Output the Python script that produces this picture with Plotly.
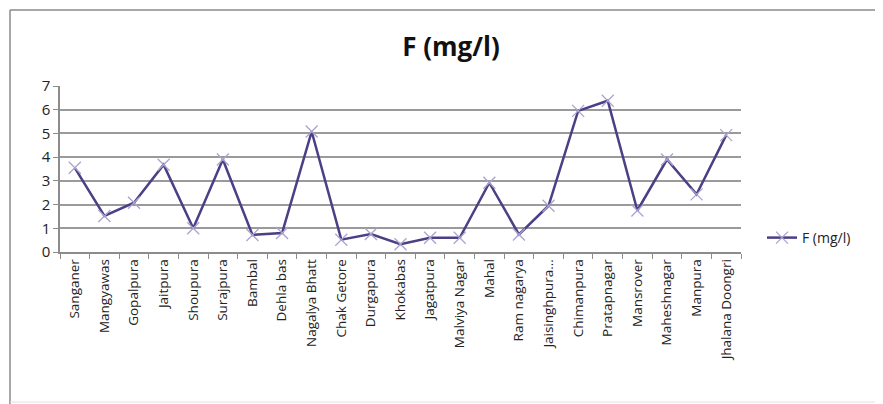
import plotly.graph_objects as go

locations = ["Sanganer", "Mangyawas", "Gopalpura", "Jaitpura", "Shoupura", "Surajpura",
             "Bambal", "Dehla bas", "Nagalya Bhatt", "Chak Getore", "Durgapura", "Khokabas",
             "Jagatpura", "Malviya Nagar", "Mahal", "Ram nagarya", "Jaisinghpura...",
             "Chimanpura", "Pratapnagar", "Mansrover", "Maheshnagar", "Manpura", "Jhalana Doongri"]
f_values = [3.55, 1.52, 2.08, 3.68, 1.0, 3.9, 0.72, 0.8, 5.08, 0.52, 0.76, 0.33,
            0.6, 0.6, 2.92, 0.74, 1.95, 5.95, 6.38, 1.75, 3.9, 2.43, 4.93]
y_ticks = [0, 1, 2, 3, 4, 5, 6, 7]
series_name = "F (mg/l)"

OFF = 8  # page body margin
W, H = 883 - OFF, 404 - OFF
L, R, T, B = 60 - OFF, 142, 86 - OFF, 152
PW, PH = W - L - R, H - T - B


def px_x(x):
    return (x - OFF - L) / PW


def px_y(y):
    return (H - B - (y - OFF)) / PH


fig = go.Figure()
fig.add_trace(go.Scatter(
    x=locations, y=f_values, mode="lines+markers", name=series_name,
    line=dict(color="#4b3f85", width=2.5),
    marker=dict(symbol="x-thin-open", size=12, line=dict(color="#aaa4cf", width=1.3), color="#aaa4cf"),
))

fig.update_layout(
    width=W, height=H,
    margin=dict(l=L, r=R, t=T, b=B),
    paper_bgcolor="white", plot_bgcolor="white",
    font=dict(family="Open Sans", color="#222"),
    title=dict(text="<b>F (mg/l)</b>", x=(451 - OFF) / W, xref="container",
               xanchor="center", y=1 - (47 - OFF) / H, yanchor="middle",
               font=dict(size=26, family="Open Sans", color="#111")),
    showlegend=True,
    legend=dict(x=px_x(762), y=px_y(238), xanchor="left",
                yanchor="middle", font=dict(size=14, color="#222"), bgcolor="rgba(0,0,0,0)",
                itemwidth=30),
    xaxis=dict(
        tickangle=-90, tickfont=dict(size=13.5, color="#222"),
        showgrid=False, showline=True, linecolor="#8c8c8c", linewidth=1.5,
        ticks="outside", ticklen=5, tickcolor="#8c8c8c", tickson="boundaries",
        range=[-0.5, len(locations) - 0.5], fixedrange=True,
    ),
    yaxis=dict(
        range=[0, 7], tickvals=y_ticks, tickfont=dict(size=15, color="#222"),
        showgrid=True, gridcolor="#9a9a9a", gridwidth=1.5,
        showline=True, linecolor="#8c8c8c", linewidth=1.5,
        ticks="outside", ticklen=5, tickcolor="#8c8c8c", zeroline=False,
        fixedrange=True,
    ),
)

# outer chart frame: top and left edges (right edge lies outside the picture)
fig.add_shape(type="line", xref="paper", yref="paper",
              x0=px_x(10), x1=px_x(900), y0=px_y(10), y1=px_y(10),
              line=dict(color="#8a8a8a", width=1.5), layer="below")
fig.add_shape(type="line", xref="paper", yref="paper",
              x0=px_x(10), x1=px_x(10), y0=px_y(10), y1=px_y(410),
              line=dict(color="#8a8a8a", width=1.5), layer="below")
fig.add_shape(type="line", xref="paper", yref="paper",
              x0=px_x(10), x1=px_x(900), y0=px_y(402), y1=px_y(402),
              line=dict(color="#e2e2e2", width=1), layer="below")

fig.write_html("out.html")
